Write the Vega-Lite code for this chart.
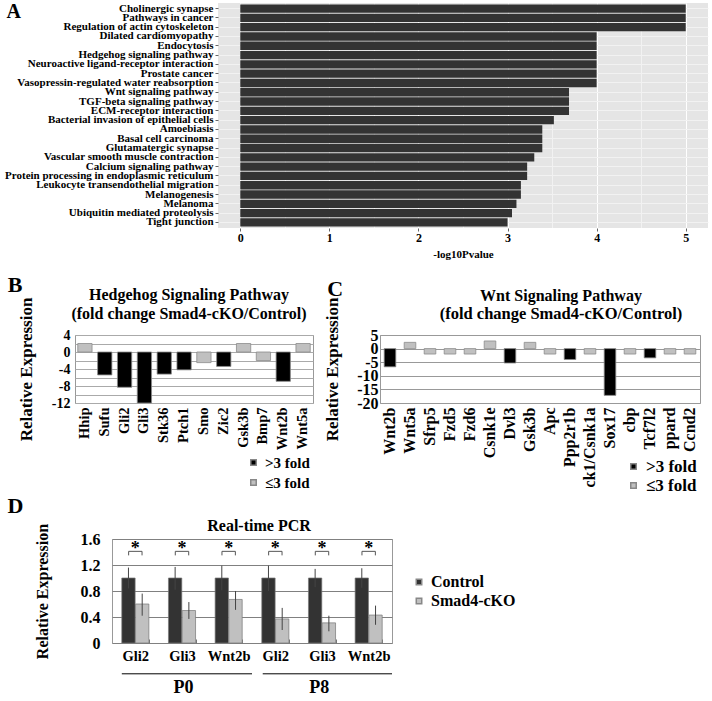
{
 "$schema": "https://vega.github.io/schema/vega-lite/v6.json",
 "padding": {"left": 0, "top": 2, "right": 4, "bottom": 2},
 "background": "white",
 "config": {
  "font": "Liberation Serif",
  "axis": {"labelFont": "Liberation Serif", "titleFont": "Liberation Serif", "labelFontWeight": "bold", "titleFontWeight": "bold", "labelColor": "#000", "titleColor": "#000"},
  "title": {"font": "Liberation Serif", "fontWeight": "bold", "color": "#000", "subtitleFont": "Liberation Serif", "subtitleFontWeight": "bold", "subtitleColor": "#000"},
  "legend": {"labelFont": "Liberation Serif", "labelFontWeight": "bold", "labelColor": "#000"}
 },
 "spacing": 0,
 "resolve": {"scale": {"color": "independent"}, "legend": {"color": "independent"}},
 "vconcat": [
  {
   "spacing": 14,
   "resolve": {"scale": {"color": "independent"}, "legend": {"color": "independent"}},
   "vconcat": [
    {
     "spacing": 0,
     "hconcat": [
      {"width": 2, "height": 1, "view": {"stroke": "transparent", "fill": "transparent"}, "data": {"values": [{}]}, "mark": {"type": "rule", "opacity": 0}, "encoding": {}},
      {
       "title": {"text": "A", "anchor": "start", "frame": "bounds", "fontSize": 20, "offset": -20, "dx": 2},
       "width": 490,
       "height": 225,
       "view": {"fill": "#e5e5e5", "stroke": null},
       "data": {"values": [
        {"term": "Cholinergic synapse", "value": 5},
        {"term": "Pathways in cancer", "value": 5},
        {"term": "Regulation of actin cytoskeleton", "value": 5},
        {"term": "Dilated cardiomyopathy", "value": 4},
        {"term": "Endocytosis", "value": 4},
        {"term": "Hedgehog signaling pathway", "value": 4},
        {"term": "Neuroactive ligand-receptor interaction", "value": 4},
        {"term": "Prostate cancer", "value": 4},
        {"term": "Vasopressin-regulated water reabsorption", "value": 4},
        {"term": "Wnt signaling pathway", "value": 3.69},
        {"term": "TGF-beta signaling pathway", "value": 3.69},
        {"term": "ECM-receptor interaction", "value": 3.69},
        {"term": "Bacterial invasion of epithelial cells", "value": 3.52},
        {"term": "Amoebiasis", "value": 3.39},
        {"term": "Basal cell carcinoma", "value": 3.39},
        {"term": "Glutamatergic synapse", "value": 3.39},
        {"term": "Vascular smooth muscle contraction", "value": 3.3},
        {"term": "Calcium signaling pathway", "value": 3.22},
        {"term": "Protein processing in endoplasmic reticulum", "value": 3.22},
        {"term": "Leukocyte transendothelial migration", "value": 3.15},
        {"term": "Melanogenesis", "value": 3.15},
        {"term": "Melanoma", "value": 3.1},
        {"term": "Ubiquitin mediated proteolysis", "value": 3.05},
        {"term": "Tight junction", "value": 3.0}
       ]},
       "mark": {"type": "bar", "color": "#333333"},
       "encoding": {
        "y": {"field": "term", "type": "nominal", "sort": null,
         "scale": {"paddingInner": 0.1, "paddingOuter": 0.15},
         "axis": {"title": null, "labelFontSize": 11, "labelPadding": 2, "tickSize": 3, "tickColor": "#666", "domain": false, "grid": true, "gridColor": "#f2f2f2", "labelLimit": 400}},
        "x": {"field": "value", "type": "quantitative",
         "scale": {"domain": [-0.25, 5.25], "nice": false, "zero": false},
         "axis": {"title": "-log10Pvalue", "titleFontSize": 11, "titlePadding": 5,
          "values": [0, 0.5, 1, 1.5, 2, 2.5, 3, 3.5, 4, 4.5, 5],
          "labelExpr": "datum.value % 1 === 0 ? '' + datum.value : ''",
          "labelFontSize": 12, "labelPadding": 1, "tickSize": 3, "tickColor": "#666",
          "tickOpacity": {"condition": {"test": "datum.value % 1 !== 0", "value": 0}, "value": 1},
          "gridColor": "white",
          "gridWidth": {"condition": {"test": "datum.value % 1 !== 0", "value": 0.5}, "value": 1},
          "domain": false}}
       }
      }
     ]
    },
    {
     "spacing": 0,
     "resolve": {"scale": {"color": "independent"}, "legend": {"color": "independent"}},
     "hconcat": [
      {"width": 5, "height": 1, "view": {"stroke": "transparent", "fill": "transparent"}, "data": {"values": [{}]}, "mark": {"type": "rule", "opacity": 0}, "encoding": {}},
      {
       "title": {"text": "B", "anchor": "start", "frame": "bounds", "fontSize": 22, "offset": -10, "dx": -9},
       "vconcat": [
        {
         "title": {"text": "Hedgehog Signaling Pathway", "subtitle": "(fold change Smad4-cKO/Control)", "fontSize": 16, "subtitleFontSize": 16, "subtitlePadding": 3, "offset": -25, "anchor": "middle", "frame": "group", "dx": -5},
         "width": 238,
         "height": 68,
         "view": {"stroke": "#999"},
         "data": {"values": [
          {"gene": "Hhip", "value": 2, "fold": "≤3 fold"},
          {"gene": "Sufu", "value": -5.4, "fold": ">3 fold"},
          {"gene": "Gli2", "value": -8.3, "fold": ">3 fold"},
          {"gene": "Gli3", "value": -12, "fold": ">3 fold"},
          {"gene": "Stk36", "value": -5.2, "fold": ">3 fold"},
          {"gene": "Ptch1", "value": -4.2, "fold": ">3 fold"},
          {"gene": "Smo", "value": -2.5, "fold": "≤3 fold"},
          {"gene": "Zic2", "value": -3.4, "fold": ">3 fold"},
          {"gene": "Gsk3b", "value": 2, "fold": "≤3 fold"},
          {"gene": "Bmp7", "value": -2, "fold": "≤3 fold"},
          {"gene": "Wnt2b", "value": -6.9, "fold": ">3 fold"},
          {"gene": "Wnt5a", "value": 2, "fold": "≤3 fold"}
         ]},
         "mark": {"type": "bar", "stroke": "#8c8c8c", "strokeWidth": 0.8},
         "encoding": {
          "x": {"field": "gene", "type": "nominal", "sort": null,
           "scale": {"paddingInner": 0.28, "paddingOuter": 0.14},
           "axis": {"title": null, "labelAngle": -90, "labelFontSize": 14.5, "ticks": false, "domain": false, "labelPadding": 4}},
          "y": {"field": "value", "type": "quantitative",
           "scale": {"domain": [-12, 4], "nice": false},
           "axis": {"title": "Relative Expression", "titleFontSize": 17, "titlePadding": 16,
            "values": [-12, -10, -8, -6, -4, -2, 0, 2, 4],
            "labelExpr": "datum.value % 4 === 0 ? '' + datum.value : ''",
            "labelOverlap": false,
            "labelFontSize": 14, "ticks": false, "domain": false, "labelPadding": 5, "gridColor": "#aaa"}},
          "color": {"field": "fold", "type": "nominal",
           "scale": {"domain": [">3 fold", "≤3 fold"], "range": ["#000000", "#c0c0c0"]},
           "legend": {"title": null, "orient": "none", "legendX": 171, "legendY": 120, "symbolType": "square", "symbolSize": 30, "labelFontSize": 15, "rowPadding": 4, "symbolStrokeColor": "#888"}}
         }
        }
       ]
      },
      {"width": 7, "height": 1, "view": {"stroke": "transparent", "fill": "transparent"}, "data": {"values": [{}]}, "mark": {"type": "rule", "opacity": 0}, "encoding": {}},
      {
       "title": {"text": "C", "anchor": "start", "frame": "bounds", "fontSize": 22, "offset": -14, "dx": 4},
       "vconcat": [
        {
         "title": {"text": "Wnt Signaling Pathway", "subtitle": "(fold change Smad4-cKO/Control)", "fontSize": 16, "subtitleFontSize": 16.5, "subtitlePadding": 2, "offset": -25, "anchor": "middle", "frame": "group", "dx": 21},
         "width": 320,
         "height": 68,
         "view": {"stroke": "#999"},
         "data": {"values": [
          {"gene": "Wnt2b", "value": -6.7, "fold": ">3 fold"},
          {"gene": "Wnt5a", "value": 2.3, "fold": "≤3 fold"},
          {"gene": "Sfrp5", "value": -2, "fold": "≤3 fold"},
          {"gene": "Fzd5", "value": -2, "fold": "≤3 fold"},
          {"gene": "Fzd6", "value": -2, "fold": "≤3 fold"},
          {"gene": "Csnk1e", "value": 2.8, "fold": "≤3 fold"},
          {"gene": "Dvl3", "value": -5.3, "fold": ">3 fold"},
          {"gene": "Gsk3b", "value": 2.3, "fold": "≤3 fold"},
          {"gene": "Apc", "value": -2, "fold": "≤3 fold"},
          {"gene": "Ppp2r1b", "value": -4, "fold": ">3 fold"},
          {"gene": "ck1/Csnk1a", "value": -2, "fold": "≤3 fold"},
          {"gene": "Sox17", "value": -17.2, "fold": ">3 fold"},
          {"gene": "cbp", "value": -2, "fold": "≤3 fold"},
          {"gene": "Tcf7l2", "value": -3.4, "fold": ">3 fold"},
          {"gene": "ppard", "value": -2, "fold": "≤3 fold"},
          {"gene": "Ccnd2", "value": -2, "fold": "≤3 fold"}
         ]},
         "mark": {"type": "bar", "stroke": "#8c8c8c", "strokeWidth": 0.8},
         "encoding": {
          "x": {"field": "gene", "type": "nominal", "sort": null,
           "scale": {"paddingInner": 0.42, "paddingOuter": 0.21},
           "axis": {"title": null, "labelAngle": -90, "labelFontSize": 16, "ticks": false, "domain": false, "labelPadding": 4}},
          "y": {"field": "value", "type": "quantitative",
           "scale": {"domain": [-20, 5], "nice": false},
           "axis": {"title": "Relative Expression", "titleFontSize": 17, "titlePadding": 15,
            "values": [-20, -15, -10, -5, 0, 5],
            "labelExpr": "'' + datum.value",
            "labelOverlap": false,
            "labelFontSize": 16, "ticks": false, "domain": false, "labelPadding": 2, "gridColor": "#999"}},
          "color": {"field": "fold", "type": "nominal",
           "scale": {"domain": [">3 fold", "≤3 fold"], "range": ["#000000", "#c0c0c0"]},
           "legend": {"title": null, "orient": "none", "legendX": 245, "legendY": 123, "symbolType": "square", "symbolSize": 30, "labelFontSize": 17, "rowPadding": 1, "symbolStrokeColor": "#888"}}
         }
        }
       ]
      }
     ]
    }
   ]
  },
  {
   "spacing": 0,
   "resolve": {"scale": {"color": "independent"}, "legend": {"color": "independent"}},
   "hconcat": [
    {"width": 5, "height": 1, "view": {"stroke": "transparent", "fill": "transparent"}, "data": {"values": [{}]}, "mark": {"type": "rule", "opacity": 0}, "encoding": {}},
    {
     "title": {"text": "D", "anchor": "start", "frame": "bounds", "fontSize": 22, "offset": 0, "dx": -26},
     "resolve": {"scale": {"color": "independent"}, "legend": {"color": "independent"}},
     "vconcat": [
      {
       "title": {"text": "Real-time PCR", "fontSize": 16, "offset": -11, "anchor": "middle", "frame": "group", "dx": 7},
       "width": 280,
       "height": 104,
       "view": {"stroke": "#999"},
       "resolve": {"scale": {"x": "independent"}},
       "layer": [
        {
         "data": {"values": [
          {"grp": "Gli2 P0", "series": "Control", "value": 1.0, "lo": 0.84, "hi": 1.16},
          {"grp": "Gli2 P0", "series": "Smad4-cKO", "value": 0.6, "lo": 0.42, "hi": 0.76},
          {"grp": "Gli3 P0", "series": "Control", "value": 1.0, "lo": 0.82, "hi": 1.17},
          {"grp": "Gli3 P0", "series": "Smad4-cKO", "value": 0.5, "lo": 0.37, "hi": 0.63},
          {"grp": "Wnt2b P0", "series": "Control", "value": 1.0, "lo": 0.81, "hi": 1.19},
          {"grp": "Wnt2b P0", "series": "Smad4-cKO", "value": 0.67, "lo": 0.51, "hi": 0.8},
          {"grp": "Gli2 P8", "series": "Control", "value": 1.0, "lo": 0.8, "hi": 1.19},
          {"grp": "Gli2 P8", "series": "Smad4-cKO", "value": 0.37, "lo": 0.2, "hi": 0.54},
          {"grp": "Gli3 P8", "series": "Control", "value": 1.0, "lo": 0.86, "hi": 1.14},
          {"grp": "Gli3 P8", "series": "Smad4-cKO", "value": 0.31, "lo": 0.18, "hi": 0.42},
          {"grp": "Wnt2b P8", "series": "Control", "value": 1.0, "lo": 0.85, "hi": 1.15},
          {"grp": "Wnt2b P8", "series": "Smad4-cKO", "value": 0.43, "lo": 0.28, "hi": 0.575}
         ]},
         "encoding": {
          "x": {"field": "grp", "type": "nominal", "sort": null,
           "scale": {"paddingInner": 0.42, "paddingOuter": 0.21},
           "axis": {"title": null, "labelAngle": 0, "labelExpr": "split(datum.label, ' ')[0]", "labelFontSize": 14.5, "domain": false, "ticks": true, "tickBand": "extent", "tickSize": -4, "tickColor": "#777", "labelPadding": 10}}
         },
         "layer": [
          {
           "mark": {"type": "bar", "stroke": "#777", "strokeWidth": 0.7},
           "encoding": {
            "xOffset": {"field": "series", "type": "nominal", "sort": null, "scale": {"paddingInner": 0.03, "paddingOuter": 0}},
            "y": {"field": "value", "type": "quantitative",
             "scale": {"domain": [0, 1.6], "nice": false},
             "axis": {"title": "Relative Expression", "titleFontSize": 16, "titlePadding": 30, "values": [0, 0.4, 0.8, 1.2, 1.6], "labelExpr": "'' + datum.value", "labelOverlap": false, "grid": true, "labelFontSize": 16, "ticks": false, "domain": false, "labelPadding": 12, "gridColor": "#808080"}},
            "color": {"field": "series", "type": "nominal",
             "scale": {"domain": ["Control", "Smad4-cKO"], "range": ["#333333", "#c0c0c0"]},
             "legend": {"title": null, "orient": "none", "legendX": 299, "legendY": 35, "symbolType": "square", "symbolSize": 30, "labelFontSize": 16, "rowPadding": 3, "symbolStrokeColor": "#888"}}
           }
          },
          {
           "mark": {"type": "rule", "color": "#444", "strokeWidth": 1},
           "encoding": {
            "xOffset": {"field": "series", "type": "nominal", "sort": null},
            "y": {"field": "lo", "type": "quantitative",
             "scale": {"domain": [0, 1.6], "nice": false},
             "axis": {"title": "Relative Expression", "titleFontSize": 16, "titlePadding": 30, "values": [0, 0.4, 0.8, 1.2, 1.6], "labelExpr": "'' + datum.value", "labelOverlap": false, "grid": true, "labelFontSize": 16, "ticks": false, "domain": false, "labelPadding": 12, "gridColor": "#808080"}},
            "y2": {"field": "hi"}
           }
          },
          {
           "transform": [{"filter": "datum.series === 'Control'"}],
           "mark": {"type": "point", "shape": "M-1,0.6L-1,0L1,0L1,0.6", "filled": false, "size": 180, "stroke": "#555", "strokeWidth": 1, "opacity": 1},
           "encoding": {"y": {"datum": 1.41, "type": "quantitative",
             "scale": {"domain": [0, 1.6], "nice": false},
             "axis": {"title": "Relative Expression", "titleFontSize": 16, "titlePadding": 30, "values": [0, 0.4, 0.8, 1.2, 1.6], "labelExpr": "'' + datum.value", "labelOverlap": false, "grid": true, "labelFontSize": 16, "ticks": false, "domain": false, "labelPadding": 12, "gridColor": "#808080"}}}
          },
          {
           "transform": [{"filter": "datum.series === 'Control'"}],
           "mark": {"type": "text", "text": "*", "fontSize": 18, "fontWeight": "bold", "baseline": "alphabetic", "color": "#000"},
           "encoding": {"y": {"datum": 1.37, "type": "quantitative",
             "scale": {"domain": [0, 1.6], "nice": false},
             "axis": {"title": "Relative Expression", "titleFontSize": 16, "titlePadding": 30, "values": [0, 0.4, 0.8, 1.2, 1.6], "labelExpr": "'' + datum.value", "labelOverlap": false, "grid": true, "labelFontSize": 16, "ticks": false, "domain": false, "labelPadding": 12, "gridColor": "#808080"}}}
          }
         ]
        },
        {
         "data": {"values": [
          {"period": "P0", "from": 0.21, "to": 3.0, "mid": 1.53},
          {"period": "P8", "from": 3.23, "to": 6.0, "mid": 4.44}
         ]},
         "layer": [
          {
           "mark": {"type": "rule", "color": "#000", "strokeWidth": 1},
           "encoding": {
            "x": {"field": "from", "type": "quantitative", "scale": {"domain": [0, 6], "nice": false, "zero": false}, "axis": null},
            "x2": {"field": "to"},
            "y": {"datum": -0.474, "type": "quantitative",
             "scale": {"domain": [0, 1.6], "nice": false},
             "axis": {"title": "Relative Expression", "titleFontSize": 16, "titlePadding": 30, "values": [0, 0.4, 0.8, 1.2, 1.6], "labelExpr": "'' + datum.value", "labelOverlap": false, "grid": true, "labelFontSize": 16, "ticks": false, "domain": false, "labelPadding": 12, "gridColor": "#808080"}}
           }
          },
          {
           "mark": {"type": "text", "fontSize": 18, "fontWeight": "bold", "baseline": "middle", "color": "#000"},
           "encoding": {
            "x": {"field": "mid", "type": "quantitative", "scale": {"domain": [0, 6], "nice": false, "zero": false}, "axis": null},
            "y": {"datum": -0.69, "type": "quantitative",
             "scale": {"domain": [0, 1.6], "nice": false},
             "axis": {"title": "Relative Expression", "titleFontSize": 16, "titlePadding": 30, "values": [0, 0.4, 0.8, 1.2, 1.6], "labelExpr": "'' + datum.value", "labelOverlap": false, "grid": true, "labelFontSize": 16, "ticks": false, "domain": false, "labelPadding": 12, "gridColor": "#808080"}},
            "text": {"field": "period"}
           }
          }
         ]
        }
       ]
      }
     ]
    }
   ]
  }
 ]
}
